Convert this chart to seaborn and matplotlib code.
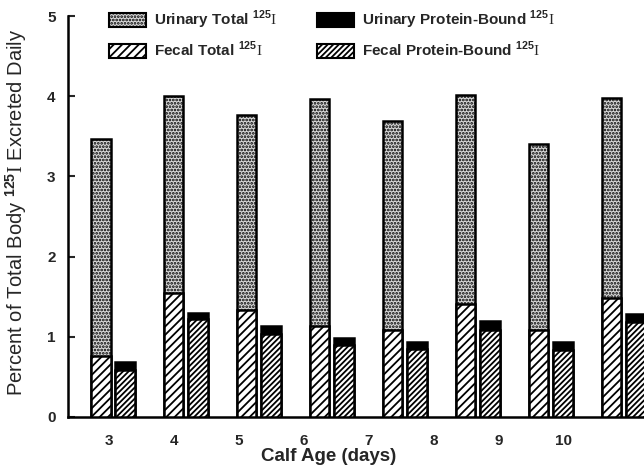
import numpy as np
import pandas as pd
import matplotlib
matplotlib.use("Agg")
import matplotlib.pyplot as plt
from matplotlib.patches import Patch
import seaborn as sns

# ---- data ----
days = ["3", "4", "5", "6", "7", "8", "9", "10"]
fecal_total = [0.76, 1.55, 1.33, 1.14, 1.09, 1.41, 1.08, 1.49]
total_total = [3.47, 4.00, 3.77, 3.96, 3.69, 4.01, 3.40, 3.98]     # fecal + urinary total
fecal_pb = [0.59, 1.22, 1.04, 0.90, 0.85, 1.09, 0.84, 1.19]
total_pb = [0.69, 1.30, 1.13, 0.99, 0.93, 1.20, 0.93, 1.28]        # fecal + urinary protein-bound
y_ticks = [0, 1, 2, 3, 4, 5]

sns.set_theme(style="white")
plt.rcParams["font.family"] = ["Liberation Sans", "DejaVu Sans"]
plt.rcParams["mathtext.fontset"] = "custom"
plt.rcParams["mathtext.rm"] = "Liberation Serif"
plt.rcParams["mathtext.sf"] = "Liberation Sans:bold"
plt.rcParams["hatch.linewidth"] = 1.3
plt.rcParams["hatch.color"] = "black"

iso = r"$^{\mathsf{125}}\mathrm{I}$"

kinds = ["Total", "Protein-Bound"]
top_df = pd.DataFrame({
    "day": days * 2,
    "kind": [kinds[0]] * len(days) + [kinds[1]] * len(days),
    "value": total_total + total_pb,
})
bot_df = pd.DataFrame({
    "day": days * 2,
    "kind": [kinds[0]] * len(days) + [kinds[1]] * len(days),
    "value": fecal_total + fecal_pb,
})

fig = plt.figure(figsize=(6.44, 4.68), dpi=100)
ax = fig.add_axes([68 / 644, 51 / 468, 1 - 68 / 644, 401 / 468])

pal = {"Total": "white", "Protein-Bound": "white"}
sns.barplot(data=top_df, x="day", y="value", hue="kind", order=days, hue_order=kinds,
            palette=pal, width=0.672, gap=0.2, edgecolor="black", linewidth=1.8,
            errorbar=None, legend=False, ax=ax, zorder=2)
sns.barplot(data=bot_df, x="day", y="value", hue="kind", order=days, hue_order=kinds,
            palette=pal, width=0.672, gap=0.2, edgecolor="black", linewidth=1.8,
            errorbar=None, legend=False, ax=ax, zorder=3)

styles = [
    dict(facecolor="#d8d8d8", hatch="....."),   # urinary total (stipple)
    dict(facecolor="black", hatch=None),        # urinary protein-bound
    dict(facecolor="white", hatch="////"),      # fecal total
    dict(facecolor="white", hatch="//////"),    # fecal protein-bound
]
for cont, st in zip(ax.containers, styles):
    for p in cont:
        p.set_facecolor(st["facecolor"])
        p.set_hatch(st["hatch"])
        p.set_edgecolor("black")

ax.set_ylim(0, 5)
ax.set_xlim(-0.617, 7.28)
ax.set_yticks(y_ticks)
ax.set_yticklabels([str(t) for t in y_ticks], fontweight="bold", fontsize=11)
# reference's labels drift relative to the bar groups
ax.set_xticks(np.arange(len(days)) * 0.89 - 0.055)
ax.set_xticklabels(days, fontweight="bold", fontsize=11)
ax.tick_params(axis="y", direction="in", length=5, width=1.5, pad=9, left=True)
ax.tick_params(axis="x", length=0, pad=12)

for s in ["top", "right"]:
    ax.spines[s].set_visible(False)
for s in ["left", "bottom"]:
    ax.spines[s].set_color("black")
    ax.spines[s].set_linewidth(1.8)

ax.set_xlabel("Calf Age (days)", fontsize=13.5, fontweight="bold")
ax.set_ylabel("Percent of Total Body " + iso + " Excreted Daily", fontsize=14.5)
ax.xaxis.set_label_coords(0.452, -0.077)
ax.yaxis.set_label_coords(-0.068, 0.51)

handles = [
    Patch(facecolor="#d8d8d8", hatch=".....", edgecolor="black", linewidth=1.5),
    Patch(facecolor="white", hatch="////", edgecolor="black", linewidth=1.5),
    Patch(facecolor="black", edgecolor="black", linewidth=1.5),
    Patch(facecolor="white", hatch="//////", edgecolor="black", linewidth=1.5),
]
labels = [
    "Urinary Total " + iso,
    "Fecal Total " + iso,
    "Urinary Protein-Bound " + iso,
    "Fecal Protein-Bound " + iso,
]
fig.legend(handles, labels, ncol=2, loc="upper left", frameon=False,
           bbox_to_anchor=(109 / 644, 1 - 9 / 468), borderpad=0, borderaxespad=0,
           handlelength=2.4, handleheight=1.0, handletextpad=0.55,
           columnspacing=2.6, labelspacing=0.55,
           prop={"weight": "bold", "size": 11})

fig.savefig("out.png", dpi=100)
